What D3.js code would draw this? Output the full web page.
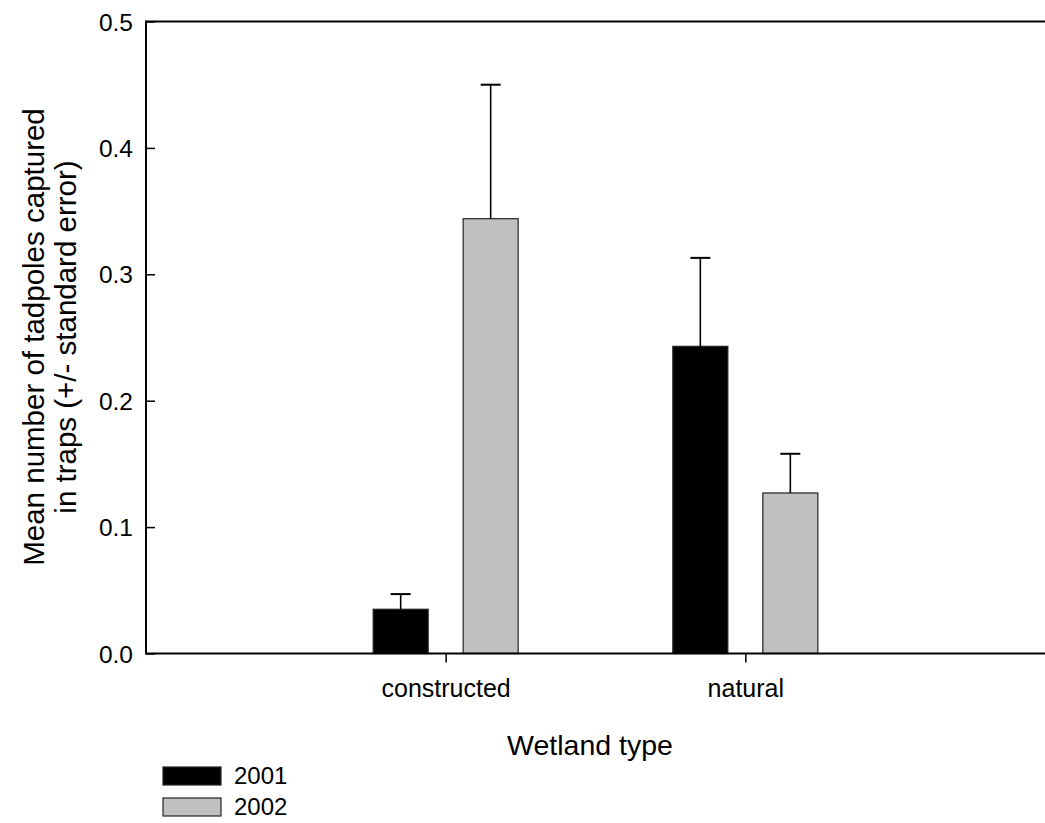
<!DOCTYPE html>
<html>
<head>
<meta charset="utf-8">
<script src="https://cdn.jsdelivr.net/npm/d3@7"></script>
<style>
  html, body { margin: 0; padding: 0; background: #fff; }
  svg { display: block; font-family: "Liberation Sans", Arial, sans-serif; }
</style>
</head>
<body>
<svg id="chart" width="1045" height="823"></svg>
<script>
// Wetland types and survey years
const wetlandTypes = ["constructed", "natural"];
const years = ["2001", "2002"];

// Mean tadpoles per trap, by year (same order as wetlandTypes)
const mean2001 = [0.035, 0.243];
const mean2002 = [0.344, 0.127];

// Standard errors (upper whisker only)
const se2001 = [0.012, 0.070];
const se2002 = [0.106, 0.031];

const yTicks = [0.0, 0.1, 0.2, 0.3, 0.4, 0.5];

const yearColor = { "2001": "#000000", "2002": "#c0c0c0" };

const rows = [];
wetlandTypes.forEach((w, i) => {
  rows.push({ type: w, year: "2001", mean: mean2001[i], se: se2001[i] });
  rows.push({ type: w, year: "2002", mean: mean2002[i], se: se2002[i] });
});

const svg = d3.select("#chart");
const plotLeft = 146, plotRight = 1045, plotTop = 21.5, plotBottom = 653.5;

const x0 = d3.scalePoint().domain(wetlandTypes).range([plotLeft, plotRight]).padding(1);
const x1 = d3.scaleBand().domain(years).range([-117.5, 117.5])
  .paddingInner(1 - 55 / 90).paddingOuter(0.5);
const y = d3.scaleLinear().domain([0, 0.5]).range([plotBottom, plotTop]);

// Bars
svg.append("g").selectAll("rect").data(rows).join("rect")
  .attr("x", d => x0(d.type) + x1(d.year))
  .attr("y", d => y(d.mean))
  .attr("width", x1.bandwidth())
  .attr("height", d => y(0) - y(d.mean))
  .attr("fill", d => yearColor[d.year])
  .attr("stroke", "#222")
  .attr("stroke-width", 1.2);

// Error whiskers (upward only)
const err = svg.append("g").attr("stroke", "#000").attr("stroke-width", 1.6);
rows.forEach(d => {
  const cx = x0(d.type) + x1(d.year) + x1.bandwidth() / 2;
  err.append("line").attr("x1", cx).attr("x2", cx)
    .attr("y1", y(d.mean)).attr("y2", y(d.mean + d.se));
  err.append("line").attr("x1", cx - 10).attr("x2", cx + 10)
    .attr("y1", y(d.mean + d.se)).attr("y2", y(d.mean + d.se))
    .attr("stroke-width", 2);
});

// Y axis: ticks point into the plot
const yAxis = svg.append("g").attr("transform", `translate(${plotLeft},0)`)
  .call(d3.axisRight(y).tickValues(yTicks).tickFormat(d3.format(".1f")).tickSize(9).tickSizeOuter(0));
yAxis.select(".domain").remove();
yAxis.selectAll(".tick line").attr("stroke", "#000").attr("stroke-width", 1.5);
yAxis.selectAll(".tick text")
  .attr("x", -13).attr("text-anchor", "end").attr("dy", "0.35em")
  .attr("font-size", 24.5).attr("fill", "#000");

// X axis ticks below the baseline
const xAxis = svg.append("g").attr("transform", `translate(0,${plotBottom})`)
  .call(d3.axisBottom(x0).tickSize(9).tickSizeOuter(0));
xAxis.select(".domain").remove();
xAxis.selectAll(".tick line").attr("stroke", "#000").attr("stroke-width", 1.5);
xAxis.selectAll(".tick text").attr("y", 43).attr("dy", 0)
  .attr("font-size", 25).attr("fill", "#000");

// Frame lines: left, bottom, top
const frame = svg.append("g").attr("stroke", "#000").attr("stroke-width", 2).attr("fill", "none");
frame.append("line").attr("x1", plotLeft).attr("x2", plotLeft).attr("y1", plotTop - 1).attr("y2", plotBottom + 1);
frame.append("line").attr("x1", plotLeft).attr("x2", plotRight).attr("y1", plotBottom).attr("y2", plotBottom);
frame.append("line").attr("x1", plotLeft).attr("x2", plotRight).attr("y1", plotTop).attr("y2", plotTop);

// Axis titles
svg.append("text").attr("x", 590).attr("y", 755).attr("text-anchor", "middle")
  .attr("font-size", 28.5).text("Wetland type");

const yTitle = svg.append("text").attr("transform", "translate(0,337) rotate(-90)")
  .attr("text-anchor", "middle").attr("font-size", 29.5);
yTitle.append("tspan").attr("x", 0).attr("y", 44).text("Mean number of tadpoles captured");
yTitle.append("tspan").attr("x", 0).attr("y", 76).text("in traps (+/- standard error)");

// Legend
const legend = svg.append("g");
years.forEach((yr, i) => {
  const g = legend.append("g").attr("transform", `translate(163,${767 + i * 31})`);
  g.append("rect").attr("width", 58).attr("height", 18)
    .attr("fill", yearColor[yr]).attr("stroke", "#222").attr("stroke-width", 1.2);
  g.append("text").attr("x", 71).attr("y", 17).attr("font-size", 24).text(yr);
});
</script>
</body>
</html>
